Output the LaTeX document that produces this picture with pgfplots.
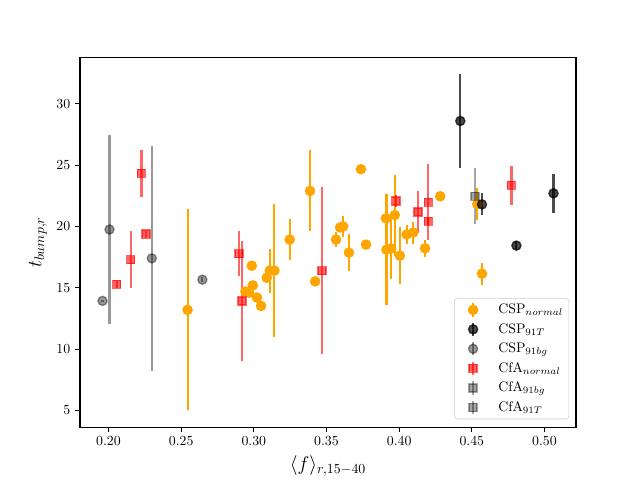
\documentclass[border=0pt]{standalone}
\usepackage{pgfplots}
\pgfplotsset{compat=1.18}
\definecolor{mplorange}{HTML}{FFA500}

% x = <f>_{r,15-40}, y = t_bump,r, e = symmetric error on y
\pgfplotstableread{
x      y      e
0.2544 13.20  8.20
0.2942 14.70  0.20
0.2967 14.60  0.20
0.2986 16.80  0.40
0.2993 15.19  0.30
0.3022 14.20  0.20
0.3050 13.52  0.20
0.3089 15.82  0.20
0.3110 16.40  1.80
0.3142 16.40  5.40
0.3247 18.93  1.65
0.3387 22.90  3.30
0.3422 15.52  0.20
0.3566 18.93  0.60
0.3594 19.92  0.30
0.3615 20.00  0.85
0.3654 17.87  1.50
0.3737 24.67  0.00
0.3772 18.52  0.20
0.3909 20.66  0.30
0.3913 18.11  4.50
0.3945 18.20  2.50
0.3970 20.93  3.30
0.4005 17.62  2.30
0.4052 19.34  0.75
0.4097 19.50  0.90
0.4178 18.22  0.70
0.4283 22.46  0.00
0.4538 21.83  1.30
0.4570 16.15  0.90
}\cspnormal

\pgfplotstableread{
x      y      e
0.4421 28.60  3.80
0.4570 21.80  0.90
0.4807 18.44  0.40
0.5062 22.70  1.60
}\cspnineoneT

\pgfplotstableread{
x      y      e
0.1959 13.93  0.10
0.2007 19.75  7.70
0.2298 17.40  9.15
0.2646 15.66  0.20
}\cspnineonebg

\pgfplotstableread{
x      y      e
0.2057 15.27  0.30
0.2152 17.30  2.35
0.2227 24.34  1.90
0.2257 19.37  0.30
0.2898 17.79  1.80
0.2919 13.93  4.90
0.3470 16.39  6.80
0.3977 22.07  0.50
0.4130 21.17  1.70
0.4201 21.97  3.10
0.4201 20.41  0.30
0.4773 23.36  1.60
}\cfanormal

\pgfplotstableread{
x      y      e
0.4522 22.46  2.30
}\cfanineonebg

\pgfplotsset{
  ebar/.style n args={4}{
    only marks, mark=#1, mark size=#4, color=#2,
    mark options={line width=1pt, fill=#2, draw=#2, fill opacity=#3, draw opacity=#3},
    legend image code/.code={
      \path[draw=none, fill=none] (0cm,0cm) -- (0.97cm,0cm);
      \draw[#2, draw opacity=#3, line width=1.5pt] (0.4cm,-0.17cm) -- (0.4cm,0.17cm);
      \draw[##1] plot coordinates {(0.4cm,0cm)};
    },
    error bars/.cd, y dir=both, y explicit, error mark=none,
    error bar style={line width=1.5pt, #2, opacity=#3},
  },
}

\begin{document}
\begin{tikzpicture}
\useasboundingbox (-0.8in,-0.528in) rectangle (5.6in,4.272in);
\begin{axis}[
  at={(0,0)}, anchor=south west,
  scale only axis, width=4.96in, height=3.696in,
  xmin=0.1804, xmax=0.5217, ymin=3.63, ymax=33.77,
  xtick={0.2,0.25,0.3,0.35,0.4,0.45,0.5},
  ytick={5,10,15,20,25,30},
  scaled x ticks=false,
  xticklabel style={/pgf/number format/.cd, fixed, fixed zerofill, precision=2},
  tick pos=left, tick align=outside,
  major tick length=3.5pt,
  every tick/.style={black, line width=0.8pt},
  axis line style={line width=0.8pt},
  xlabel={$\langle f\rangle_{r,15-40}$},
  ylabel={$t_{bump,r}$},
  label style={font=\fontsize{14}{16}\selectfont},
  legend cell align=left,
  legend style={at={(0.986,0.0214)}, anchor=south east,
    draw=black!20, rounded corners=2pt, fill=white, fill opacity=0.8,
    text opacity=1, font=\fontsize{10}{12}\selectfont,
    row sep=1.5pt, inner sep=2pt},
]
\addplot+[ebar={*}{mplorange}{1}{3.3pt}] table[x=x, y=y, y error=e] {\cspnormal};
\addlegendentry{CSP$_{normal}$}
\addplot+[ebar={*}{black}{0.7}{3.3pt}] table[x=x, y=y, y error=e] {\cspnineoneT};
\addlegendentry{CSP$_{91T}$}
\addplot+[ebar={*}{black}{0.4}{3.3pt}] table[x=x, y=y, y error=e] {\cspnineonebg};
\addlegendentry{CSP$_{91bg}$}
\addplot+[ebar={square*}{red}{0.6}{2.9pt}] table[x=x, y=y, y error=e] {\cfanormal};
\addlegendentry{CfA$_{normal}$}
\addplot+[ebar={square*}{black}{0.35}{2.9pt}] table[x=x, y=y, y error=e] {\cfanineonebg};
\addlegendentry{CfA$_{91bg}$}
\addlegendimage{ebar={square*}{black}{0.35}{2.9pt}}
\addlegendentry{CfA$_{91T}$}
\end{axis}
\end{tikzpicture}
\end{document}
